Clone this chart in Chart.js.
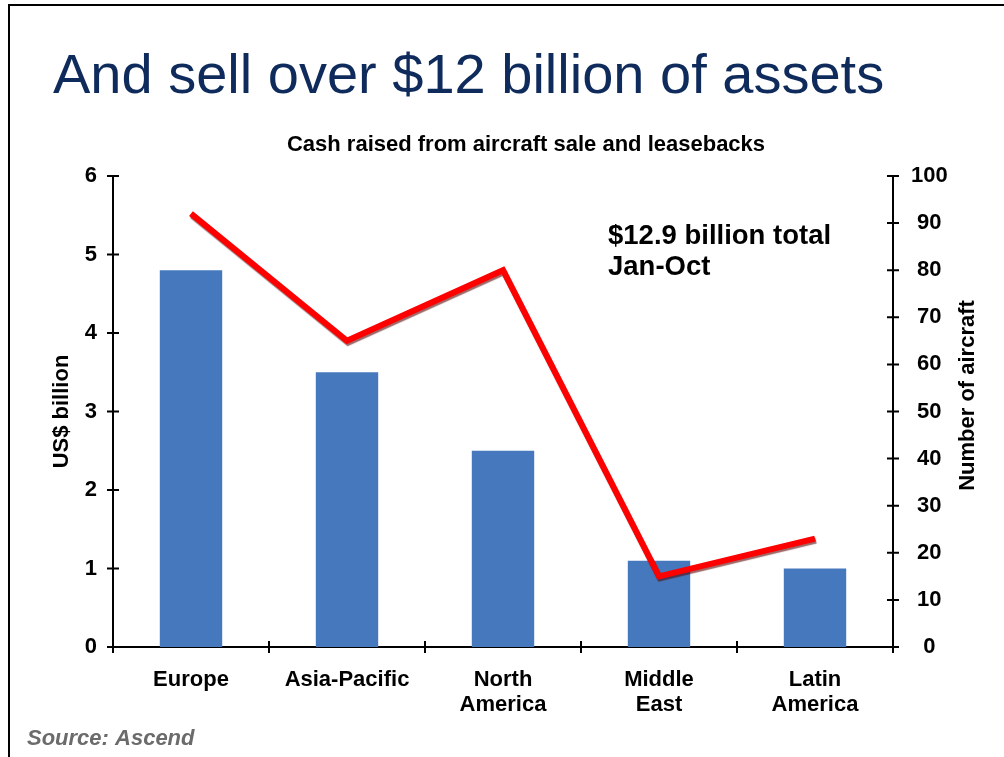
<!DOCTYPE html>
<html>
<head>
<meta charset="utf-8">
<script src="https://cdn.jsdelivr.net/npm/chart.js@4/dist/chart.umd.min.js"></script>
<style>
  html, body { margin: 0; padding: 0; background: #fff; }
  #frame { position: absolute; left: 8px; top: 4px; width: 1000px; height: 760px;
           border-top: 2px solid #000; border-left: 2px solid #000; }
  #canvas { position: absolute; left: 0; top: 0; }
</style>
</head>
<body>
<div id="frame"></div>
<canvas id="canvas" width="1004" height="757"></canvas>
<script>
const ctx = document.getElementById('canvas').getContext('2d');

const regions = [['Europe'], ['Asia-Pacific'], ['North', 'America'], ['Middle', 'East'], ['Latin', 'America']];
const cashRaised = [4.8, 3.5, 2.5, 1.1, 1.0];
const aircraftCount = [92, 65, 80, 15, 23];

const titleText = 'And sell over $12 billion of assets';
const subtitleText = 'Cash raised from aircraft sale and leasebacks';
const noteLines = ['$12.9 billion total', 'Jan-Oct'];
const sourceText = 'Source: Ascend';
const rightTitle = 'Number of aircraft';

const FONT = '"Liberation Sans", Arial, sans-serif';

const textPlugin = {
    id: 'texts',
    afterDraw: (chart) => {
        const c = chart.ctx;
        c.save();
        c.textBaseline = 'alphabetic';

        c.fillStyle = '#0f2b5c';
        c.font = '56px ' + FONT;
        c.textAlign = 'left';
        c.fillText(titleText, 53, 93);

        c.fillStyle = '#000';
        c.font = 'bold 22px ' + FONT;
        c.textAlign = 'center';
        c.fillText(subtitleText, 526, 151);

        c.font = 'bold 27.5px ' + FONT;
        c.textAlign = 'left';
        noteLines.forEach((line, i) => {
            c.fillText(line, 608, 244 + i * 31);
        });

        c.fillStyle = '#6b6b6b';
        c.font = 'italic bold 22px ' + FONT;
        c.fillText(sourceText, 27, 745);

        // right axis title reads bottom to top like the left one
        const area = chart.chartArea;
        c.save();
        c.translate(968, (area.top + area.bottom) / 2 - 16);
        c.rotate(-Math.PI / 2);
        c.fillStyle = '#000';
        c.font = 'bold 22px ' + FONT;
        c.textAlign = 'center';
        c.textBaseline = 'middle';
        c.fillText(rightTitle, 0, 0);
        c.restore();

        c.restore();
    }
};

// tick marks that cross the axis lines
const tickPlugin = {
    id: 'crossTicks',
    afterDraw: (chart) => {
        const c = chart.ctx;
        const x = chart.scales.x;
        const y = chart.scales.y;
        const y1 = chart.scales.y1;
        const area = chart.chartArea;
        c.save();
        c.strokeStyle = '#000';
        c.lineWidth = 2;
        c.beginPath();
        y.ticks.forEach(t => {
            const py = y.getPixelForValue(t.value);
            c.moveTo(area.left - 6, py);
            c.lineTo(area.left + 6, py);
        });
        y1.ticks.forEach(t => {
            const py = y1.getPixelForValue(t.value);
            c.moveTo(area.right - 6, py);
            c.lineTo(area.right + 6, py);
        });
        for (let i = 0; i <= regions.length; i++) {
            const px = x.getPixelForValue(i - 0.5);
            c.moveTo(px, area.bottom - 6);
            c.lineTo(px, area.bottom + 6);
        }
        c.stroke();
        c.restore();
    }
};

const shadowPlugin = {
    id: 'lineShadow',
    beforeDatasetDraw: (chart, args) => {
        if (args.index !== 1) return;
        const c = chart.ctx;
        c.save();
        c.shadowColor = 'rgba(90, 0, 0, 0.6)';
        c.shadowOffsetX = 1;
        c.shadowOffsetY = 2;
        c.shadowBlur = 1;
    },
    afterDatasetDraw: (chart, args) => {
        if (args.index !== 1) return;
        chart.ctx.restore();
    }
};

const tickFont = { family: FONT, size: 22, weight: 'bold', lineHeight: 1.15 };

const chart = new Chart(ctx, {
    type: 'bar',
    data: {
        labels: regions,
        datasets: [
            {
                type: 'bar',
                label: 'US$ billion',
                data: cashRaised,
                backgroundColor: '#4678bd',
                yAxisID: 'y',
                barPercentage: 0.4,
                categoryPercentage: 1,
                order: 2
            },
            {
                type: 'line',
                label: 'Number of aircraft',
                data: aircraftCount,
                borderColor: '#ff0000',
                borderWidth: 6,
                borderCapStyle: 'butt',
                tension: 0,
                pointRadius: 0,
                yAxisID: 'y1',
                order: 1
            }
        ]
    },
    options: {
        responsive: false,
        animation: false,
        layout: {
            padding: { left: 45, right: 19, top: 176, bottom: 0 }
        },
        plugins: {
            legend: { display: false },
            tooltip: { enabled: false },
            title: { display: false }
        },
        scales: {
            x: {
                grid: { display: false, drawTicks: false },
                border: { display: true, color: '#000', width: 2 },
                ticks: {
                    color: '#000',
                    padding: 20,
                    maxRotation: 0,
                    autoSkip: false,
                    font: tickFont
                },
                afterFit: (s) => { s.height = 110; }
            },
            y: {
                position: 'left',
                min: 0,
                max: 6,
                grid: { display: false, drawTicks: false },
                border: { display: true, color: '#000', width: 2 },
                ticks: {
                    stepSize: 1,
                    color: '#000',
                    padding: 16,
                    font: tickFont
                },
                title: {
                    display: true,
                    text: 'US$ billion',
                    color: '#000',
                    font: { family: FONT, size: 22, weight: 'bold' }
                },
                afterFit: (s) => { s.width = 68; }
            },
            y1: {
                position: 'right',
                min: 0,
                max: 100,
                grid: { display: false, drawTicks: false },
                border: { display: true, color: '#000', width: 2 },
                ticks: {
                    stepSize: 10,
                    color: '#000',
                    padding: 18,
                    crossAlign: 'center',
                    font: tickFont
                },
                afterFit: (s) => { s.width = 92; }
            }
        }
    },
    plugins: [shadowPlugin, tickPlugin, textPlugin]
});
</script>
</body>
</html>
